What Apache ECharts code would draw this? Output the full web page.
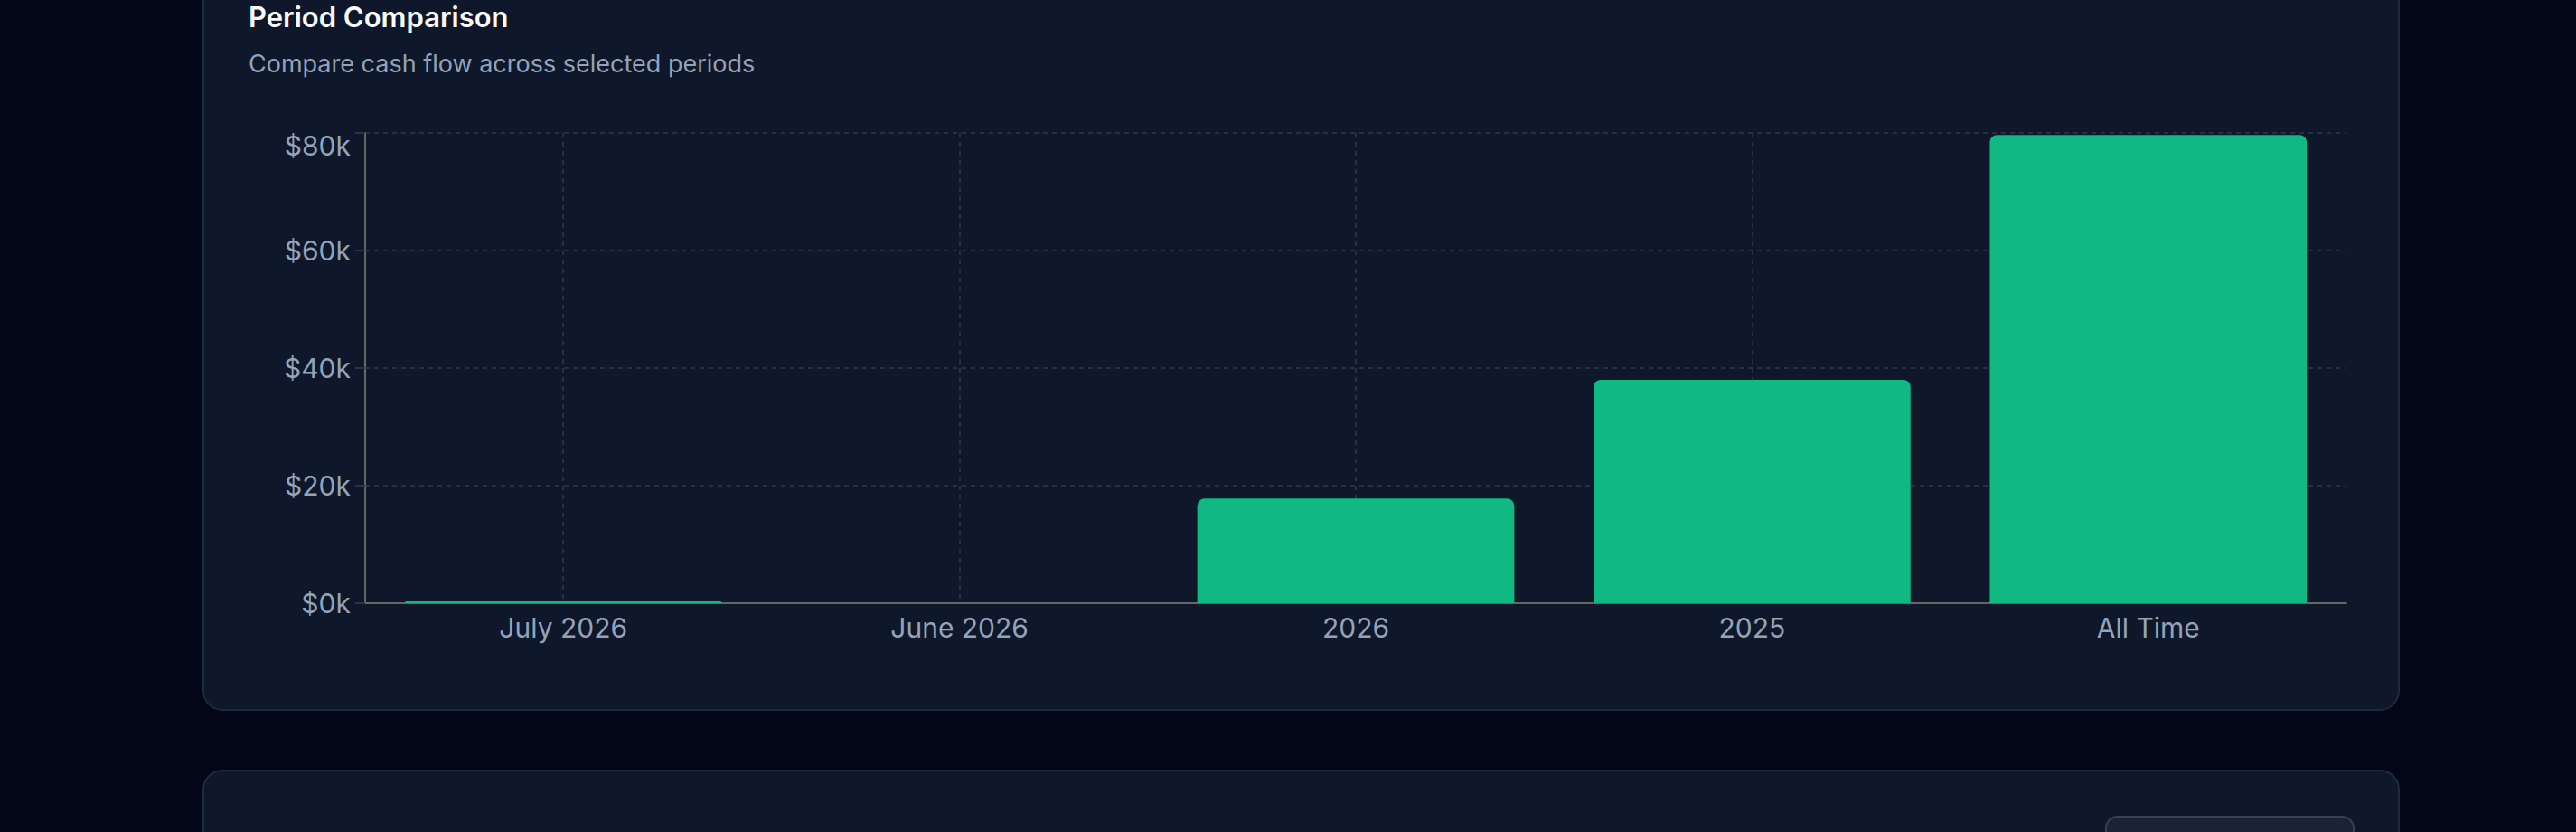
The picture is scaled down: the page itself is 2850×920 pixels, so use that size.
<!DOCTYPE html>
<html>
<head>
<meta charset="utf-8">
<script src="https://cdn.jsdelivr.net/npm/echarts@6/dist/echarts.min.js"></script>
<style>
  html, body { margin: 0; padding: 0; width: 2850px; height: 920px; overflow: hidden; background: #020617; }
  .card { position: absolute; left: 224px; width: 2427px; background: #0f172a; border: 2px solid #1f2a3c; border-radius: 22px; }
  #card1 { top: -60px; height: 842px; }
  #card2 { top: 851px; height: 200px; }
  .btn { position: absolute; left: 2103px; top: 49px; width: 272px; height: 80px; background: #1a2234; border: 2px solid #334155; border-radius: 14px; }
  #chart { position: absolute; left: 0; top: 0; width: 2850px; height: 920px; }
</style>
</head>
<body>
<div class="card" id="card1"></div>
<div class="card" id="card2"><div class="btn"></div></div>
<div id="chart"></div>
<script>
// Dữ liệu biểu đồ
var categories = ['July 2026', 'June 2026', '2026', '2025', 'All Time'];
var cashFlow = [300, 0, 17800, 38000, 79650];
var yMax = 80000;
var yStep = 20000;

function formatK(value) {
    return '$' + (value / 1000) + 'k';
}

var chartDom = document.getElementById('chart');
var myChart = echarts.init(chartDom, null, { renderer: 'svg' });

var labelColor = '#94a3b8';
var fontFamily = 'Inter, "Noto Sans", sans-serif';

var option = {
    animation: false,
    title: [{
        text: 'Period Comparison',
        left: 275,
        top: 3,
        padding: 0,
        textStyle: { color: '#f8fafc', fontSize: 31, fontWeight: 600, fontFamily: fontFamily }
    }, {
        text: 'Compare cash flow across selected periods',
        left: 275,
        top: 57,
        padding: 0,
        textStyle: { color: labelColor, fontSize: 27, fontWeight: 400, fontFamily: fontFamily }
    }],
    grid: { left: 404, right: 254, top: 147, bottom: 253, containLabel: false },
    xAxis: {
        type: 'category',
        data: categories,
        axisLine: { lineStyle: { color: '#666', width: 2 } },
        axisTick: { alignWithLabel: true, length: 10, lineStyle: { color: '#2a3447', width: 2 } },
        axisLabel: { color: labelColor, fontSize: 30, fontFamily: fontFamily, margin: 12 },
        splitLine: { show: true, alignWithLabel: true, lineStyle: { color: '#253044', width: 2, type: [5, 5] } }
    },
    yAxis: {
        type: 'value',
        min: 0,
        max: yMax,
        interval: yStep,
        axisLine: { show: true, lineStyle: { color: '#666', width: 2 } },
        axisTick: { show: true, length: 11, lineStyle: { color: '#2a3447', width: 2 } },
        axisLabel: {
            color: labelColor, fontSize: 30, fontFamily: fontFamily, margin: 16,
            formatter: function (value) {
                // nhãn trên cùng bị đẩy xuống một chút
                return value === yMax ? '{top|' + formatK(value) + '}' : formatK(value);
            },
            rich: {
                top: { color: labelColor, fontSize: 30, fontFamily: fontFamily, padding: [28, 0, 0, 0] }
            }
        },
        splitLine: { lineStyle: { color: '#253044', width: 2, type: [5, 5] } }
    },
    series: [{
        type: 'bar',
        data: cashFlow,
        barWidth: '80%',
        itemStyle: { color: '#10b981', borderRadius: [8, 8, 0, 0] }
    }]
};

myChart.setOption(option);
</script>
</body>
</html>
